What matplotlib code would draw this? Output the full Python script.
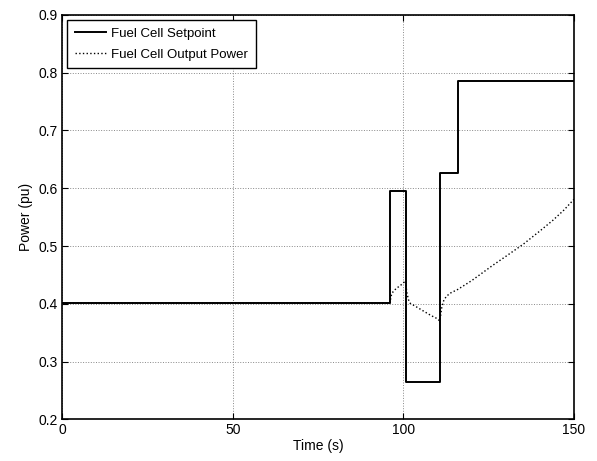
import numpy as np
import matplotlib
matplotlib.use('Agg')
import matplotlib.pyplot as plt

plt.rcParams['font.family'] = ['Liberation Sans', 'DejaVu Sans']

# Fuel cell setpoint (step signal), time in s and power in pu
t_set = [0, 96, 96, 100.7, 100.7, 110.7, 110.7, 115.9, 115.9, 150]
p_set = [0.401, 0.401, 0.595, 0.595, 0.264, 0.264, 0.627, 0.627, 0.785, 0.785]

# Fuel cell output power
t_out = [0, 96, 96.5, 97, 98, 99, 100, 100.6, 101, 101.5, 102, 104, 106,
         108, 110, 110.7, 111.2, 111.8, 112.5, 113.6, 116, 120, 126.3,
         130, 135.1, 140, 143.9, 147, 150]
p_out = [0.401, 0.401, 0.415, 0.421, 0.427, 0.431, 0.436, 0.440, 0.420,
         0.407, 0.401, 0.394, 0.387, 0.380, 0.374, 0.370, 0.392, 0.405,
         0.412, 0.418, 0.425, 0.440, 0.467, 0.482, 0.503, 0.526, 0.545,
         0.562, 0.581]

fig = plt.figure(figsize=(5.97, 4.61), dpi=100)
ax = fig.add_axes([0.1039, 0.0905, 0.8576, 0.877])

ax.plot(t_set, p_set, color='black', lw=1.4, label='Fuel Cell Setpoint')
ax.plot(t_out, p_out, color='black', lw=1.0, ls=':', label='Fuel Cell Output Power')

ax.set_xlim(0, 150)
ax.set_ylim(0.2, 0.9)
ax.set_xticks([0, 50, 100, 150])
ax.set_yticks(np.arange(0.2, 0.91, 0.1))
ax.set_yticklabels(['0.2', '0.3', '0.4', '0.5', '0.6', '0.7', '0.8', '0.9'])
ax.grid(True, color='#888888', ls=':', lw=0.7)
ax.tick_params(direction='in', top=True, right=True, labelsize=10, length=4, pad=3)
for s in ax.spines.values():
    s.set_linewidth(1.2)

ax.set_xlabel('Time (s)', fontsize=10, labelpad=1)
ax.set_ylabel('Power (pu)', fontsize=10, labelpad=4)

leg = ax.legend(loc='upper left', fontsize=9.5, fancybox=False, framealpha=1,
                edgecolor='black', borderaxespad=0.35, handlelength=2.4,
                handletextpad=0.35, borderpad=0.6, labelspacing=0.65)
leg.get_frame().set_linewidth(1.0)

fig.savefig('out.png', dpi=100)
